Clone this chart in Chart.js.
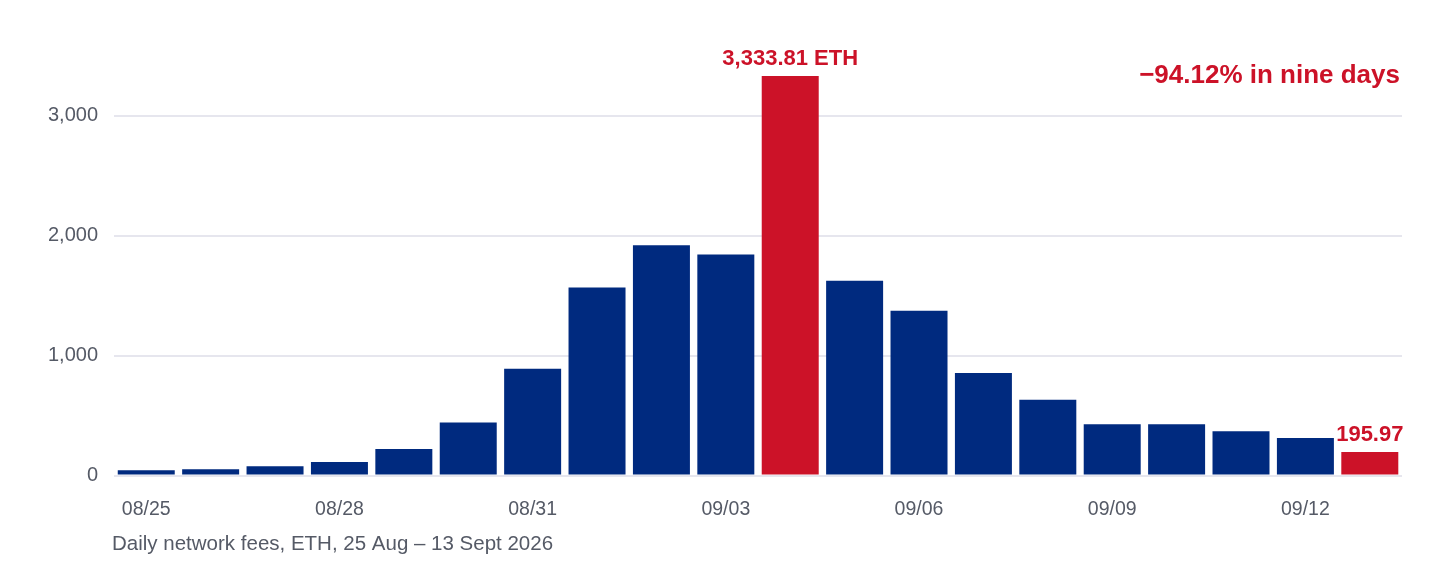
<!DOCTYPE html>
<html>
<head>
<meta charset="utf-8">
<script src="https://cdn.jsdelivr.net/npm/chart.js@4"></script>
<style>
  html, body { margin: 0; padding: 0; background: #fff; }
  #wrap { width: 1432px; height: 568px; }
</style>
</head>
<body>
<div id="wrap"><canvas id="feeChart"></canvas></div>
<script>
const dayLabels = [
  '08/25', '08/26', '08/27', '08/28', '08/29', '08/30', '08/31',
  '09/01', '09/02', '09/03', '09/04', '09/05', '09/06', '09/07',
  '09/08', '09/09', '09/10', '09/11', '09/12', '09/13'
];

const feeValues = [
  44, 54, 77, 113, 222, 443, 891,
  1568, 1921, 1844, 3333.81, 1626, 1376, 855,
  632, 428, 428, 370, 314, 195.97
];

const yTickValues = [0, 1000, 2000, 3000];

// days that get the red highlight and a label above the bar
const highlightLabels = { 10: '3,333.81 ETH', 19: '195.97' };

const navyColor = 'rgb(0, 42, 127)';
const redColor = 'rgb(204, 18, 40)';
const gridColor = 'rgb(230, 230, 238)';
const tickColor = 'rgb(85, 90, 102)';
const fontFamily = '"Liberation Sans", Arial, sans-serif';

const barColors = feeValues.map((v, i) => (i in highlightLabels ? redColor : navyColor));

const annotationPlugin = {
  id: 'annotations',
  afterDatasetsDraw(chart) {
    const ctx = chart.ctx;
    const meta = chart.getDatasetMeta(0);
    ctx.save();
    ctx.fillStyle = redColor;
    ctx.textAlign = 'center';
    ctx.textBaseline = 'alphabetic';
    ctx.font = 'bold 22px ' + fontFamily;
    Object.keys(highlightLabels).forEach((idx) => {
      const bar = meta.data[idx];
      ctx.fillText(highlightLabels[idx], bar.x, bar.y - 11);
    });
    ctx.font = 'bold 26px ' + fontFamily;
    ctx.textAlign = 'right';
    ctx.fillText('\u221294.12% in nine days', chart.chartArea.right - 2, 83);
    ctx.font = '20.5px ' + fontFamily;
    ctx.textAlign = 'left';
    ctx.fillStyle = tickColor;
    ctx.fillText('Daily network fees, ETH, 25 Aug \u2013 13 Sept 2026', chart.chartArea.left - 2, 550);
    ctx.restore();
  }
};

const feeConfig = {
  type: 'bar',
  data: {
    labels: dayLabels,
    datasets: [{
      data: feeValues,
      backgroundColor: barColors,
      barPercentage: 0.885,
      categoryPercentage: 1
    }]
  },
  options: {
    responsive: true,
    maintainAspectRatio: false,
    animation: false,
    layout: { padding: { left: 32, right: 30, top: 56, bottom: 25 } },
    plugins: {
      legend: { display: false },
      tooltip: { enabled: false }
    },
    scales: {
      x: {
        grid: { display: false, drawTicks: false },
        border: { display: false },
        ticks: {
          color: tickColor,
          font: { family: fontFamily, size: 19.5 },
          padding: 22,
          maxRotation: 0,
          autoSkip: false,
          callback: (val, i) => (i % 3 === 0 ? dayLabels[i] : '')
        }
      },
      y: {
        min: 0,
        max: 3500,
        grid: {
          lineWidth: 2,
          drawTicks: false,
          color: (c) => (c.tick && yTickValues.includes(c.tick.value) ? gridColor : 'rgba(0,0,0,0)')
        },
        border: { display: false },
        ticks: {
          stepSize: 500,
          autoSkip: false,
          color: tickColor,
          padding: 16,
          font: { family: fontFamily, size: 20 },
          callback: (val) => (yTickValues.includes(val) ? val.toLocaleString('en-US') : '')
        }
      }
    }
  },
  plugins: [annotationPlugin]
};

document.addEventListener('DOMContentLoaded', () => {
  const feeChart = new Chart(document.getElementById('feeChart'), feeConfig);
});
</script>
</body>
</html>
